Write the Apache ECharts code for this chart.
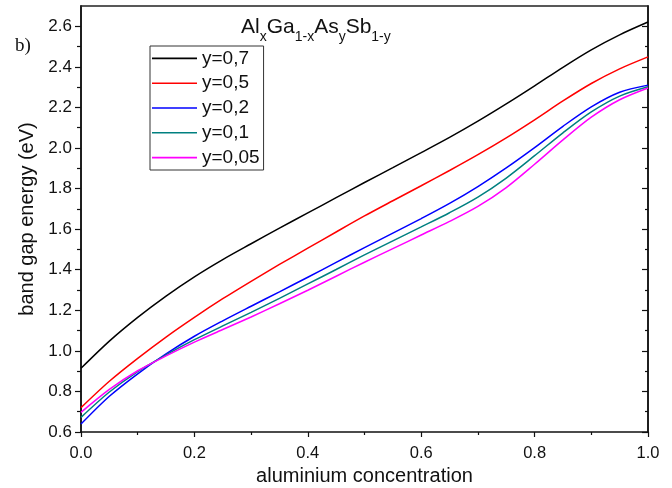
<!DOCTYPE html>
<html>
<head>
<meta charset="utf-8">
<script src="https://cdn.jsdelivr.net/npm/echarts@6/dist/echarts.min.js"></script>
<style>
html,body{margin:0;padding:0;background:#fff;}
#chart{width:672px;height:488px;}
</style>
</head>
<body>
<div id="chart"></div>
<script>
// ---- data (x step 0.05) ----
const xValues = [0, 0.05, 0.1, 0.15, 0.2, 0.25, 0.3, 0.35, 0.4, 0.45, 0.5, 0.55, 0.6, 0.65, 0.7, 0.75, 0.8, 0.85, 0.9, 0.95, 1.0];
const y07  = [0.914, 1.048, 1.165, 1.27, 1.365, 1.45, 1.528, 1.605, 1.68, 1.755, 1.83, 1.903, 1.977, 2.052, 2.132, 2.217, 2.306, 2.398, 2.484, 2.558, 2.621];
const y05  = [0.72, 0.85, 0.963, 1.068, 1.165, 1.257, 1.343, 1.426, 1.506, 1.586, 1.665, 1.74, 1.814, 1.889, 1.967, 2.05, 2.139, 2.232, 2.318, 2.39, 2.449];
const y02  = [0.639, 0.776, 0.887, 0.985, 1.072, 1.148, 1.22, 1.291, 1.363, 1.436, 1.509, 1.58, 1.652, 1.727, 1.81, 1.902, 2.002, 2.107, 2.203, 2.275, 2.31];
const y01  = [0.672, 0.797, 0.898, 0.98, 1.055, 1.123, 1.19, 1.259, 1.33, 1.401, 1.473, 1.542, 1.611, 1.681, 1.758, 1.852, 1.962, 2.075, 2.178, 2.256, 2.302];
const y005 = [0.697, 0.81, 0.902, 0.975, 1.043, 1.105, 1.167, 1.232, 1.299, 1.368, 1.437, 1.504, 1.571, 1.638, 1.712, 1.805, 1.92, 2.04, 2.152, 2.238, 2.296];
const seriesNames = ['y=0,7', 'y=0,5', 'y=0,2', 'y=0,1', 'y=0,05'];
const seriesColors = ['#000000', '#ff0000', '#0000ff', '#008080', '#ff00ff'];
const yMajorTicks = [0.6, 0.8, 1.0, 1.2, 1.4, 1.6, 1.8, 2.0, 2.2, 2.4, 2.6];
const yMinorTicks = [0.7, 0.9, 1.1, 1.3, 1.5, 1.7, 1.9, 2.1, 2.3, 2.5];
const xName = 'aluminium concentration';
const yName = 'band gap energy (eV)';

const allY = [y07, y05, y02, y01, y005];
const FONT = 'Liberation Sans, Arial, sans-serif';
const INK = '#111';

const chart = echarts.init(document.getElementById('chart'), null, {renderer: 'canvas'});

const yBase = {
  type: 'value', min: 0.6, max: 2.7, splitLine: {show: false},
  axisLine: {onZero: false, lineStyle: {color: INK, width: 1.5}},
  axisLabel: {show: false}
};

const option = {
  animation: false,
  backgroundColor: '#fff',
  title: [
    {
      text: '{m|Al}{s|x}{m|Ga}{s|1-x}{m|As}{s|y}{m|Sb}{s|1-y}',
      left: 241, top: 17, padding: 0,
      textStyle: {
        fontWeight: 'normal',
        rich: {
          m: {fontFamily: FONT, fontSize: 21, fontWeight: 'normal', color: INK, lineHeight: 21, verticalAlign: 'top'},
          s: {fontFamily: FONT, fontSize: 14, fontWeight: 'normal', color: INK, lineHeight: 40, verticalAlign: 'middle'}
        }
      }
    },
    {
      text: 'b)', left: 15, top: 37, padding: 0,
      textStyle: {fontFamily: 'Liberation Serif, Times New Roman, serif', fontSize: 19, fontWeight: 'normal', color: INK}
    }
  ],
  legend: {
    orient: 'vertical', left: 150, top: 46,
    padding: [0, 4, 0, 2], itemGap: 0, itemWidth: 45, itemHeight: 1.6,
    icon: 'rect',
    borderColor: '#333', borderWidth: 1,
    textStyle: {fontFamily: FONT, fontSize: 19, color: INK, lineHeight: 24.8},
    data: seriesNames
  },
  grid: {left: 81, right: 24, top: 6, bottom: 56, containLabel: false, outerBoundsMode: 'none'},
  xAxis: [
    {
      type: 'value', min: 0, max: 1, interval: 0.2, position: 'bottom',
      name: xName, nameLocation: 'middle', nameGap: 32,
      nameTextStyle: {fontFamily: FONT, fontSize: 20, color: INK},
      splitLine: {show: false},
      axisLine: {onZero: false, lineStyle: {color: INK, width: 1.5}},
      axisTick: {inside: false, length: 5, lineStyle: {color: INK, width: 1.2}},
      minorTick: {show: true, splitNumber: 2, length: 3, lineStyle: {color: INK, width: 1.2}},
      axisLabel: {fontFamily: FONT, fontSize: 16.5, color: INK, margin: 13, formatter: v => v.toFixed(1)}
    },
    {
      type: 'value', min: 0, max: 1, position: 'top',
      splitLine: {show: false},
      axisLine: {onZero: false, lineStyle: {color: '#222', width: 1.5}},
      axisTick: {show: false}, axisLabel: {show: false}
    }
  ],
  yAxis: [
    Object.assign({}, yBase, {
      position: 'left',
      name: yName, nameLocation: 'middle', nameGap: 39, nameRotate: 90,
      nameTextStyle: {fontFamily: FONT, fontSize: 20, color: INK},
      axisTick: {inside: false, length: 6, customValues: yMajorTicks, lineStyle: {color: INK, width: 1.2}},
      axisLabel: {show: true, fontFamily: FONT, fontSize: 17, color: INK, margin: 9,
        customValues: yMajorTicks, formatter: v => v.toFixed(1)}
    }),
    Object.assign({}, yBase, {
      position: 'left',
      axisTick: {inside: false, length: 4, customValues: yMinorTicks, lineStyle: {color: INK, width: 1.2}}
    }),
    Object.assign({}, yBase, {
      position: 'right',
      axisTick: {inside: true, length: 6, customValues: yMajorTicks, lineStyle: {color: INK, width: 1.2}}
    }),
    Object.assign({}, yBase, {
      position: 'right',
      axisTick: {inside: true, length: 3, customValues: yMinorTicks, lineStyle: {color: INK, width: 1.2}}
    })
  ],
  series: seriesNames.map((name, i) => ({
    name: name, type: 'line', xAxisIndex: 0, yAxisIndex: 0,
    smooth: 0.3, symbol: 'none', showSymbol: false,
    color: seriesColors[i],
    lineStyle: {color: seriesColors[i], width: 1.5},
    data: xValues.map((x, j) => [x, allY[i][j]])
  }))
};
chart.setOption(option);
</script>
</body>
</html>
